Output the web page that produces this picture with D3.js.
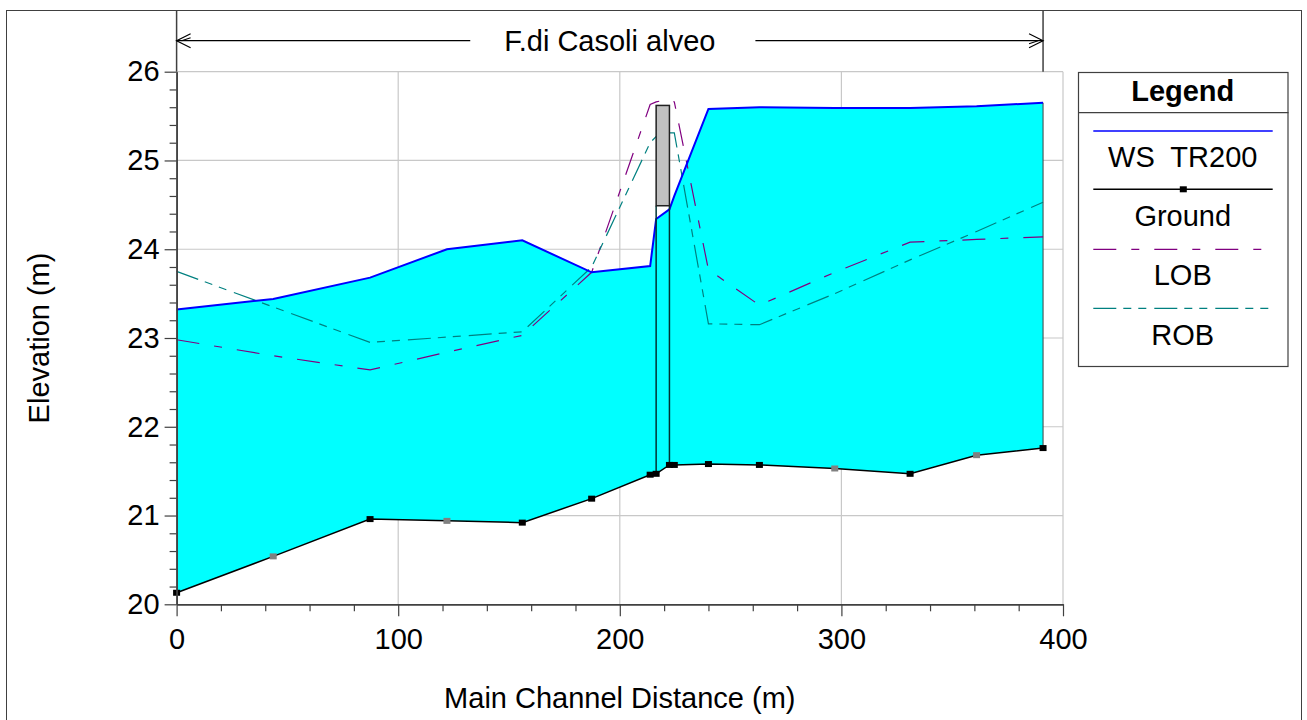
<!DOCTYPE html>
<html>
<head>
<meta charset="utf-8">
<script src="https://cdn.jsdelivr.net/npm/d3@7"></script>
<style>
  html, body { margin: 0; padding: 0; background: #fff; }
  svg { display: block; }
  text { font-family: "Liberation Sans", Arial, sans-serif; fill: #000; }
</style>
</head>
<body>
<svg id="chart" width="1307" height="720"></svg>
<script>
// ---- data ----
const stations     = [0, 43.6, 87.3, 122, 156, 187.3, 213.7, 216.4, 222.4, 224.6, 240, 263, 297, 331, 361, 391];
const interpolated = [false, true, false, true, false, false, false, false, false, false, false, false, true, false, true, false];
const wsTR200      = [23.32, 23.44, 23.68, 24.00, 24.10, 23.74, 23.81, 24.34, 24.45, 24.60, 25.58, 25.60, 25.59, 25.59, 25.61, 25.65];
const ground       = [20.13, 20.54, 20.96, 20.94, 20.92, 21.19, 21.46, 21.47, 21.57, 21.57, 21.58, 21.57, 21.53, 21.47, 21.68, 21.76];
const lob          = [22.98, 22.80, 22.64, 22.84, 23.03, 23.74, 25.63, 25.66, 25.69, 25.66, 23.77, 23.37, 23.74, 24.08, 24.11, 24.14];
const rob          = [23.75, 23.35, 22.95, 23.01, 23.07, 23.80, 25.20, 25.27, 25.31, 25.31, 23.16, 23.15, 23.50, 23.88, 24.20, 24.53];
const bridgeStations = [216.4, 222.4];
const bridgeDeck     = [24.49, 25.62];   // low chord, high chord
const reachStations  = [0, 391];
const reachName      = "F.di Casoli alveo";
const xTicks = [0, 100, 200, 300, 400];
const yTicks = [20, 21, 22, 23, 24, 25, 26];
const legendLabels = ["WS  TR200", "Ground", "LOB", "ROB"];

const FONT = 29;
const svg = d3.select("#chart");

const x = d3.scaleLinear().domain([0, 400]).range([176.6, 1063]);
const y = d3.scaleLinear().domain([20, 26]).range([604.3, 71.7]);

// outer frame
svg.append("rect").attr("x", 6.5).attr("y", 10.5).attr("width", 1295).attr("height", 800)
  .attr("fill", "none").attr("stroke", "#404040").attr("stroke-width", 1);

// grid
const grid = svg.append("g").attr("stroke", "#c8c8c8").attr("stroke-width", 1.2);
xTicks.filter(d => d > 0).forEach(d => {
  grid.append("line").attr("x1", x(d)).attr("x2", x(d)).attr("y1", y(26)).attr("y2", y(20));
});
yTicks.filter(d => d > 20).forEach(d => {
  grid.append("line").attr("x1", x(0)).attr("x2", x(400)).attr("y1", y(d)).attr("y2", y(d));
});

const pts = stations.map((s, i) => ({s, ws: wsTR200[i], g: ground[i], lob: lob[i], rob: rob[i], interp: interpolated[i]}));

// water fill
svg.append("path").datum(pts)
  .attr("d", d3.area().x(d => x(d.s)).y0(d => y(d.g)).y1(d => y(d.ws)))
  .attr("fill", "#00ffff").attr("stroke", "none");

// right reach edge inside water
svg.append("line").attr("x1", x(reachStations[1])).attr("x2", x(reachStations[1]))
  .attr("y1", y(wsTR200[wsTR200.length - 1])).attr("y2", y(ground[ground.length - 1]))
  .attr("stroke", "#404040").attr("stroke-width", 1);

// LOB / ROB
const LOB_DASH = "23,15,8,15";
const ROB_DASH = "23,7,8,7,8,8";
svg.append("path").datum(pts)
  .attr("d", d3.line().x(d => x(d.s)).y(d => y(d.lob)))
  .attr("fill", "none").attr("stroke", "#800080").attr("stroke-width", 1.2)
  .attr("stroke-dasharray", LOB_DASH);
svg.append("path").datum(pts)
  .attr("d", d3.line().x(d => x(d.s)).y(d => y(d.rob)))
  .attr("fill", "none").attr("stroke", "#008080").attr("stroke-width", 1.2)
  .attr("stroke-dasharray", ROB_DASH);

// WS line
svg.append("path").datum(pts)
  .attr("d", d3.line().x(d => x(d.s)).y(d => y(d.ws)))
  .attr("fill", "none").attr("stroke", "#0000ff").attr("stroke-width", 2);

// bridge piers / abutment lines
bridgeStations.forEach(s => {
  const gi = stations.indexOf(s);
  svg.append("line").attr("x1", x(s)).attr("x2", x(s))
    .attr("y1", y(bridgeDeck[0])).attr("y2", y(ground[gi]))
    .attr("stroke", "#003333").attr("stroke-width", 1.5);
});
// deck
svg.append("rect")
  .attr("x", x(bridgeStations[0])).attr("y", y(bridgeDeck[1]))
  .attr("width", x(bridgeStations[1]) - x(bridgeStations[0]))
  .attr("height", y(bridgeDeck[0]) - y(bridgeDeck[1]))
  .attr("fill", "#c0c0c0").attr("stroke", "#202020").attr("stroke-width", 1.5);

// ground line
svg.append("path").datum(pts)
  .attr("d", d3.line().x(d => x(d.s)).y(d => y(d.g)))
  .attr("fill", "none").attr("stroke", "#000").attr("stroke-width", 1.5);
svg.append("g").selectAll("rect").data(pts).join("rect")
  .attr("x", d => x(d.s) - 3.5).attr("y", d => y(d.g) - 3)
  .attr("width", 7).attr("height", 6)
  .attr("fill", d => d.interp ? "#808080" : "#000");

// axes
function styleAxis(g) {
  g.select(".domain").attr("stroke", "#404040").attr("stroke-width", 1.5);
  g.selectAll(".tick line").attr("stroke", "#404040").attr("stroke-width", 1.2);
  g.selectAll("text").attr("font-size", FONT).attr("fill", "#000")
    .attr("font-family", '"Liberation Sans", Arial, sans-serif');
}
const minorX = d3.range(0, 401, 20).filter(d => d % 100 !== 0);
const minorY = d3.range(20, 26.001, 0.2).map(d => +d.toFixed(1)).filter(d => Math.abs(d - Math.round(d)) > 0.01);

svg.append("g").attr("transform", `translate(0,${y(20)})`)
  .call(d3.axisBottom(x).tickValues(minorX).tickSize(7).tickFormat("").tickSizeOuter(0))
  .call(styleAxis);
svg.append("g").attr("transform", `translate(0,${y(20)})`)
  .call(d3.axisBottom(x).tickValues(xTicks).tickSize(12).tickPadding(12).tickSizeOuter(0).tickFormat(d3.format("d")))
  .call(styleAxis);
svg.append("g").attr("transform", `translate(${x(0)},0)`)
  .call(d3.axisLeft(y).tickValues(minorY).tickSize(7).tickFormat("").tickSizeOuter(0))
  .call(styleAxis);
svg.append("g").attr("transform", `translate(${x(0)},0)`)
  .call(d3.axisLeft(y).tickValues(yTicks).tickSize(12).tickPadding(5).tickSizeOuter(0).tickFormat(d3.format("d")))
  .call(styleAxis);

// y-axis line extended up to frame
svg.append("line").attr("x1", x(0)).attr("x2", x(0)).attr("y1", 10.5).attr("y2", y(26))
  .attr("stroke", "#404040").attr("stroke-width", 1.5);
// right reach boundary above plot
svg.append("line").attr("x1", x(reachStations[1])).attr("x2", x(reachStations[1]))
  .attr("y1", 10.5).attr("y2", y(26))
  .attr("stroke", "#404040").attr("stroke-width", 1.5);

// axis titles
svg.append("text").attr("x", x(200)).attr("y", 708).attr("text-anchor", "middle")
  .attr("font-size", FONT).text("Main Channel Distance (m)");
svg.append("text").attr("transform", `translate(49,${(y(20) + y(26)) / 2}) rotate(-90)`)
  .attr("text-anchor", "middle").attr("font-size", FONT).text("Elevation (m)");

// reach annotation
const ax0 = x(reachStations[0]), ax1 = x(reachStations[1]), ay = 40.7;
const cx = (ax0 + ax1) / 2;
const rt = svg.append("text").attr("x", cx).attr("y", ay + 10.5).attr("text-anchor", "middle")
  .attr("font-size", FONT).text(reachName);
const bb = rt.node().getBBox();
const ag = svg.append("g").attr("stroke", "#000").attr("stroke-width", 1.2).attr("fill", "none");
ag.append("line").attr("x1", ax0).attr("x2", bb.x - 34).attr("y1", ay).attr("y2", ay);
ag.append("line").attr("x1", bb.x + bb.width + 40).attr("x2", ax1).attr("y1", ay).attr("y2", ay);
ag.append("path").attr("d", `M${ax0 + 14},${ay - 7} L${ax0},${ay} L${ax0 + 14},${ay + 7} M${ax0 + 5},${ay} L${ax0 + 14},${ay - 3}`);
ag.append("path").attr("d", `M${ax1 - 14},${ay - 7} L${ax1},${ay} L${ax1 - 14},${ay + 7} M${ax1 - 5},${ay} L${ax1 - 14},${ay + 3}`);

// legend
const lg = svg.append("g");
const LX0 = 1078, LX1 = 1287.5, LY0 = 72, LY1 = 366;
const lcx = (LX0 + LX1) / 2;
lg.append("rect").attr("x", LX0 + 0.5).attr("y", LY0 + 0.5).attr("width", LX1 - LX0).attr("height", LY1 - LY0)
  .attr("fill", "#fff").attr("stroke", "#404040").attr("stroke-width", 1.2);
lg.append("line").attr("x1", LX0).attr("x2", LX1 + 1).attr("y1", 112.7).attr("y2", 112.7)
  .attr("stroke", "#404040").attr("stroke-width", 1.2);
lg.append("text").attr("x", lcx).attr("y", 100.7).attr("text-anchor", "middle")
  .attr("font-size", FONT).attr("font-weight", "bold").text("Legend");

const lineY = [131, 189.3, 249.3, 308.3];
const textY = [166.7, 226, 285, 345];
const lStroke = ["#0000ff", "#000", "#800080", "#008080"];
const lDash = [null, null, LOB_DASH, ROB_DASH];
const lWidth = [1.5, 1.5, 1.2, 1.2];
legendLabels.forEach((lab, i) => {
  lg.append("line").attr("x1", 1093.3).attr("x2", 1272.7).attr("y1", lineY[i]).attr("y2", lineY[i])
    .attr("stroke", lStroke[i]).attr("stroke-width", lWidth[i])
    .attr("stroke-dasharray", lDash[i]);
  lg.append("text").attr("x", lcx).attr("y", textY[i]).attr("text-anchor", "middle")
    .attr("font-size", FONT).style("white-space", "pre").text(lab);
});
lg.append("rect").attr("x", 1183.3 - 3.5).attr("y", lineY[1] - 3).attr("width", 7).attr("height", 6).attr("fill", "#000");
</script>
</body>
</html>
